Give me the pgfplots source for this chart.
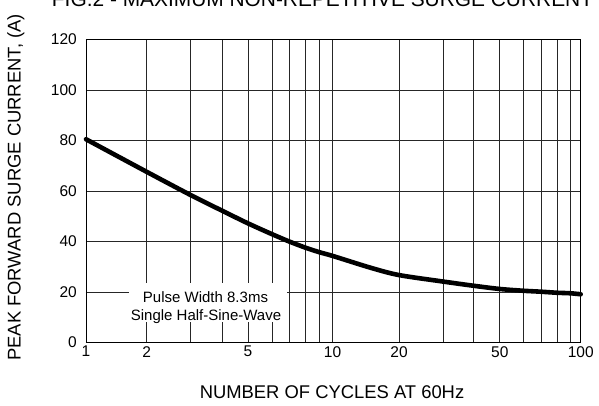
\documentclass[border=0pt]{standalone}
\usepackage{fontspec}
\setmainfont{Liberation Sans}
\usepackage{pgfplots}
\pgfplotsset{compat=1.18}

% Position (in px along the axis) of the hand-drawn log grid of the original chart
\pgfmathdeclarefunction{cycpos}{1}{%
  \begingroup
  \pgfmathsetmacro\cx{#1}%
  \pgfmathparse{
     and(\cx>=1,\cx<2)*(0+(60.7-0)*ln(\cx/1)/ln(2))
    +and(\cx>=2,\cx<3)*(60.7+(104.7-60.7)*ln(\cx/2)/ln(1.5))
    +and(\cx>=3,\cx<4)*(104.7+(136.7-104.7)*ln(\cx/3)/ln(4/3))
    +and(\cx>=4,\cx<5)*(136.7+(162-136.7)*ln(\cx/4)/ln(1.25))
    +and(\cx>=5,\cx<6)*(162+(186.7-162)*ln(\cx/5)/ln(1.2))
    +and(\cx>=6,\cx<7)*(186.7+(204-186.7)*ln(\cx/6)/ln(7/6))
    +and(\cx>=7,\cx<8)*(204+(220-204)*ln(\cx/7)/ln(8/7))
    +and(\cx>=8,\cx<9)*(220+(234-220)*ln(\cx/8)/ln(1.125))
    +and(\cx>=9,\cx<10)*(234+(246.7-234)*ln(\cx/9)/ln(10/9))
    +and(\cx>=10,\cx<20)*(246.7+(313.3-246.7)*ln(\cx/10)/ln(2))
    +and(\cx>=20,\cx<30)*(313.3+(358-313.3)*ln(\cx/20)/ln(1.5))
    +and(\cx>=30,\cx<40)*(358+(387.3-358)*ln(\cx/30)/ln(4/3))
    +and(\cx>=40,\cx<50)*(387.3+(414-387.3)*ln(\cx/40)/ln(1.25))
    +and(\cx>=50,\cx<60)*(414+(437.3-414)*ln(\cx/50)/ln(1.2))
    +and(\cx>=60,\cx<70)*(437.3+(456-437.3)*ln(\cx/60)/ln(7/6))
    +and(\cx>=70,\cx<80)*(456+(471.3-456)*ln(\cx/70)/ln(8/7))
    +and(\cx>=80,\cx<90)*(471.3+(484.7-471.3)*ln(\cx/80)/ln(1.125))
    +and(\cx>=90,\cx<100.5)*(484.7+(495-484.7)*ln(\cx/90)/ln(10/9))
  }%
  \pgfmathsmuggle\pgfmathresult
  \endgroup}

\begin{document}
\begin{tikzpicture}[x=1pt,y=1pt]
\begin{axis}[
  scale only axis, width=494.7pt, height=303pt,
  xmin=1, xmax=100, ymin=0, ymax=120,
  x coord trafo/.code={\pgfmathparse{cycpos(#1)}},
  xtick={1,2,3,4,5,6,7,8,9,10,20,30,40,50,60,70,80,90,100},
  xticklabels={1,2,{},{},5,{},{},{},{},10,20,{},{},50,{},{},{},{},100},
  ytick={0,20,40,60,80,100,120},
  grid=major,
  major grid style={black!85, line width=0.8pt},
  major tick length=0pt,
  axis line style={black, line width=0.9pt},
  tick label style={font=\fontsize{15.5}{18}\selectfont},
  /pgf/number format/assume math mode=true,
  yticklabel style={inner sep=0pt, xshift=-9pt},
  xticklabel style={inner sep=0pt, yshift=-3.5pt},
  clip=false,
]
\addplot[black, line width=4.6pt, line cap=round, smooth] coordinates {
  (1,80.5) (2,67.6) (3,58.4) (4,52.1) (5,47.2) (6,42.8) (7,39.9) (8,37.5)
  (9,35.7) (10,34.3) (15,29.5) (20,26.7) (30,24.1) (40,22.5) (50,21.2)
  (60,20.5) (70,20.1) (80,19.7) (90,19.5) (100,19.1)
};
\end{axis}
\begin{scope}[shift={(-86pt,-62.5pt)}]
\node[fill=white, minimum width=158pt, minimum height=39pt, inner sep=0pt] at (208,102.8) {};
\node[font=\fontsize{15}{18}\selectfont, anchor=base, inner sep=0pt] at (205.5,102.7) {Pulse Width 8.3ms};
\node[font=\fontsize{15}{18}\selectfont, anchor=base, inner sep=0pt] at (206,85) {Single Half-Sine-Wave};
\node[font=\fontsize{18.4}{22}\selectfont, rotate=90, anchor=base, inner sep=0pt] at (20.7,217.5) {PEAK FORWARD SURGE CURRENT, (A)};
\node[font=\fontsize{18.4}{22}\selectfont, anchor=base, inner sep=0pt] at (332,6.7) {NUMBER OF CYCLES AT 60Hz};
\node[font=\fontsize{20.9}{24}\selectfont, anchor=base, inner sep=0pt] at (322.5,398.3) {FIG.2 - MAXIMUM NON-REPETITIVE SURGE CURRENT};
\end{scope}
\pgfresetboundingbox
\path[use as bounding box] (-86pt,-62.5pt) rectangle (513pt,342.5pt);
\end{tikzpicture}
\end{document}
